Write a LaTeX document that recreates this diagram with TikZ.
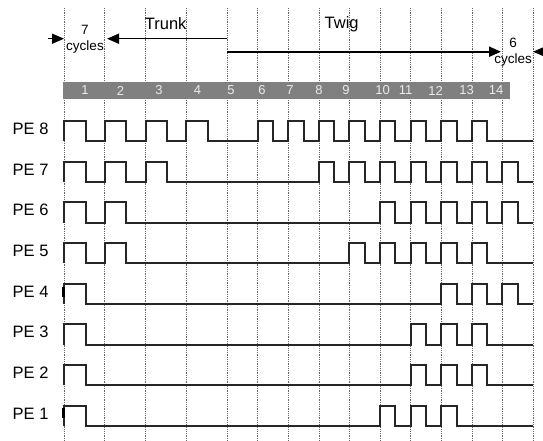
\documentclass[tikz,border=0pt]{standalone}
\usepackage{fontspec}
\setmainfont{Liberation Sans}
\usetikzlibrary{arrows.meta}
\newcommand{\peRow}[2]{%
  \pgfmathsetmacro\hh{121+40.68*(8-#1)}%
  \pgfmathsetmacro\ll{\hh+20.3}%
  \draw[wave] (64,\ll)
    \foreach \k [evaluate=\k as \xs using {(\k<4) ? 64+40.75*\k : 227+30.6*(\k-4)},
                 evaluate=\k as \ww using {(\k<4) ? 21.5 : 15.4}] in {#2}
      { -- (\xs,\ll) -- (\xs,\hh) -- (\xs+\ww,\hh) -- (\xs+\ww,\ll) }
    -- (533,\ll);
  \node[pelabel] (pe#1) at (12.5,\hh+7.8) {PE #1};
}
\begin{document}
\begin{tikzpicture}[x=1pt,y=-1pt,
  grid/.style={black!60, line width=0.6pt, dash pattern=on 0.8pt off 1pt},
  wave/.style={black!85, line width=2pt, line join=miter},
  dimline/.style={black, line width=1.5pt},
  tipr/.style={-{Triangle[length=12pt,width=10pt]}},
  pelabel/.style={anchor=west, inner sep=0pt, font=\fontsize{16.5}{18}\selectfont},
  title/.style={inner sep=0pt, font=\fontsize{16.5}{18}\selectfont},
  small/.style={inner sep=0pt, font=\fontsize{13.5}{15}\selectfont},
  barlbl/.style={inner sep=0pt, text=black!8, font=\fontsize{13}{15}\selectfont}
]
\useasboundingbox (0,0) rectangle (543,441);
% vertical dotted grid
\foreach \x in {64,104.75,145.5,186.25,227,257.6,288.2,318.8,349.4,380,410.6,441.2,471.8,502.4,533}
  \draw[grid] (\x,8) -- (\x,441);
% cycle bar
\fill[black!50] (63,82) rectangle (510,99);
\foreach \n/\x in {1/85,2/120.5,3/159,4/197.5,5/231,6/262,7/290,8/319,9/346,10/382.7,11/405.7,12/435.7,13/466.7,14/496}
  \node[barlbl] (c\n) at (\x,90.5) {\n};
% trunk / twig annotations
\node[title] (trunk) at (165.7,24) {Trunk};
\node[title] (twig) at (341.7,24) {Twig};
\node[small] (seven) at (85,30) {7};
\node[small] (cyc1) at (85,47.5) {cycles};
\node[small] (six) at (513,43) {6};
\node[small] (cyc2) at (513,60) {cycles};
\coordinate (ta) at (48,38.7);
\coordinate (tb) at (64,38.7);
\coordinate (tc) at (227,38.7);
\coordinate (td) at (107,38.7);
\draw[dimline,tipr] (ta) -- (tb);
\draw[dimline,tipr] (tc) -- (td);
\coordinate (wa) at (227,51.7);
\coordinate (wb) at (501,51.7);
\coordinate (wc) at (543,51.7);
\coordinate (wd) at (533,51.7);
\draw[dimline,line width=2pt,tipr] (wa) -- (wb);
\draw[dimline,tipr] (wc) -- (wd);
% waveforms
\peRow{8}{0,1,2,3,5,6,7,8,9,10,11,12}
\peRow{7}{0,1,2,7,8,9,10,11,12,13}
\peRow{6}{0,1,9,10,11,12,13}
\peRow{5}{0,1,8,9,10,11,12}
\peRow{4}{0,11,12,13}
\peRow{3}{0,10,11,12}
\peRow{2}{0,10,11,12}
\peRow{1}{0,9,10,11}
% small marks at left edge
\fill (62.3,287) rectangle (64.7,297);
\fill (62.3,408) rectangle (64.7,418);
\end{tikzpicture}
\end{document}
